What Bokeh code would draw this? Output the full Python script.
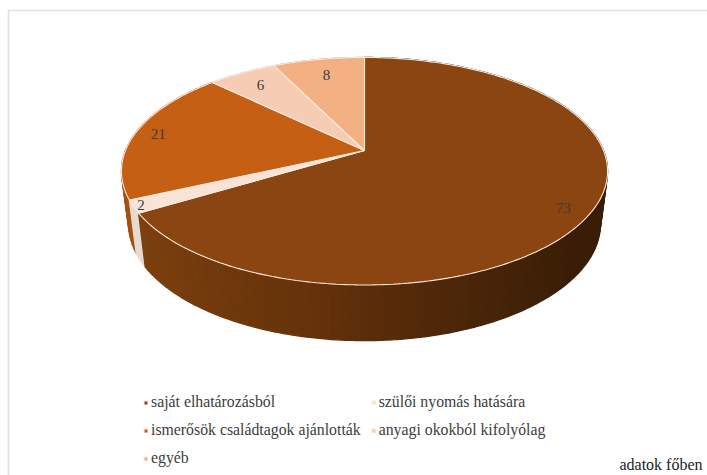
import numpy as np
from bokeh.plotting import figure
from bokeh.embed import file_html
from bokeh.resources import INLINE
from bokeh.models import Legend, LegendItem, Range1d
from bokeh.core.properties import value

categories = ["saját elhatározásból", "szülői nyomás hatására", "ismerősök családtagok ajánlották",
              "anyagi okokból kifolyólag", "egyéb"]
values = [73, 2, 21, 6, 8]
top_colors = ["#8B4510", "#F8E3D6", "#C55F14", "#F6CDB4", "#F2B083"]
wall_colors = [None, "#E6DBD3", "#A8500F", "#D9B49C", "#D49A72"]
label_r = [0.88, 0.97, 0.9, 0.83, 0.8]
label_dy = [6, 0, 0, 0, 0]
note = "adatok főben"

FONT = "Liberation Serif"
TEXT = "#3c3c3c"
RIM = "#F8EADF"

CX, CY, A, B, K = 364.0, 150.0, 239.0, 110.0, 0.182
CY2, A2, B2 = 202.0, 232.0, 113.0


def project(frac, r=1.0, cy=CY, a=A, b=B):
    t = 2 * np.pi * np.asarray(frac, dtype=float)
    u, v = r * np.sin(t), -r * np.cos(t)
    w = 1 - K * v
    return CX + a * u / w, cy + b * v / w


p = figure(width=707, height=475, output_backend="svg", toolbar_location=None,
           x_range=Range1d(0, 707), y_range=Range1d(475, 0), min_border=0,
           x_axis_location=None, y_axis_location=None, outline_line_color=None,
           background_fill_color="white", border_fill_color="white")
p.grid.visible = False
p.xaxis.visible = False
p.yaxis.visible = False

# chart-area frame
p.line([707, 8, 8], [10, 10, 475], line_color="#DFDFDF", line_width=1.6)

total = float(sum(values))
edges = np.concatenate([[0.0], np.cumsum(values)]) / total

# side wall: strips from the back to the front of the disc
stops_t = [0.25, 0.36, 0.44, 0.50, 0.53, 0.60, 0.665]
stops_rgb = np.array([[0x38, 0x1C, 0x06], [0x3A, 0x1E, 0x07], [0x4A, 0x26, 0x09], [0x5C, 0x2E, 0x0A],
                      [0x66, 0x33, 0x0B], [0x74, 0x3B, 0x0D], [0x7E, 0x41, 0x0F]], dtype=float)
strips = []
for i in range(len(values)):
    n = max(2, int(round((edges[i + 1] - edges[i]) * 180)))
    e = np.linspace(edges[i], edges[i + 1], n + 1)
    for a0, a1 in zip(e[:-1], e[1:]):
        mid = (a0 + a1) / 2
        if wall_colors[i] is None:
            rgb = [np.interp(mid, stops_t, stops_rgb[:, c]) for c in range(3)]
            col = "#%02X%02X%02X" % tuple(int(x) for x in rgb)
        else:
            col = wall_colors[i]
        strips.append((-np.cos(2 * np.pi * mid), a0, a1, col))
strips.sort(key=lambda s: s[0])
for _, a0, a1, col in strips:
    f = np.linspace(a0, a1, 3)
    x1, y1 = project(f)
    x2, y2 = project(f, cy=CY2, a=A2, b=B2)
    p.patch(np.r_[x1, x2[::-1]], np.r_[y1, y2[::-1]], fill_color=col, line_color=col, line_width=1.3)

# top face
renderers = []
for i in range(len(values)):
    f = np.linspace(edges[i], edges[i + 1], max(3, int((edges[i + 1] - edges[i]) * 360)))
    x, y = project(f)
    r = p.patch(np.r_[CX, x], np.r_[CY, y], fill_color=top_colors[i], line_color=RIM, line_width=1.1)
    renderers.append(r)

# data labels
mids = (edges[:-1] + edges[1:]) / 2
for i, val in enumerate(values):
    lx, ly = project(mids[i], r=label_r[i])
    p.text([float(lx)], [float(ly) + label_dy[i]], text=[str(val)], text_font=value(FONT),
           text_font_size="15px", text_color=TEXT, text_align="center", text_baseline="middle")

legend = Legend(items=[LegendItem(label=c, renderers=[r]) for c, r in zip(categories, renderers)],
                ncols=2, orientation="horizontal", location=(143, 8), border_line_color=None,
                background_fill_alpha=0, glyph_width=5, glyph_height=5, label_standoff=3,
                label_text_font=FONT, label_text_font_size="15.8px", label_text_color=TEXT,
                label_height=18, spacing=10, padding=0, margin=0, click_policy="none")
p.add_layout(legend, "center")

p.text([702], [464], text=[note], text_font=value(FONT), text_font_size="16px",
       text_color="#222222", text_align="right", text_baseline="middle")

open("out.html", "w").write(file_html(p, INLINE))
